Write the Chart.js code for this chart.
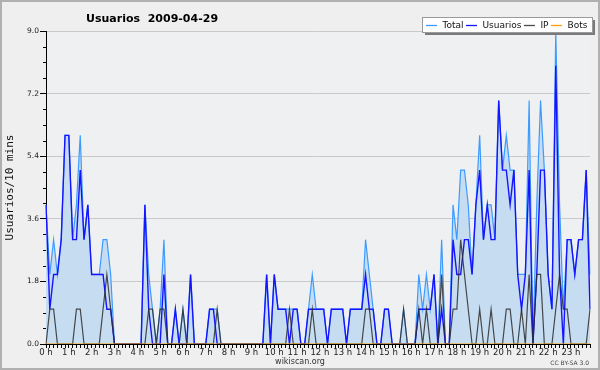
<!DOCTYPE html>
<html><head><meta charset="utf-8">
<script src="https://cdn.jsdelivr.net/npm/chart.js@4.4.0/dist/chart.umd.min.js"></script>
<style>html,body{margin:0;padding:0;background:#efefef;}#wrap{width:600px;height:370px;position:relative;}canvas{display:block;}</style>
</head><body><div id="wrap"><canvas id="c" width="600" height="370"></canvas></div>
<script>
const chartTitle = 'Usuarios  2009-04-29';
const yAxisTitle = 'Usuarios/10 mins';
const hourLabels = ['0 h','1 h','2 h','3 h','4 h','5 h','6 h','7 h','8 h','9 h','10 h','11 h','12 h','13 h','14 h','15 h','16 h','17 h','18 h','19 h','20 h','21 h','22 h','23 h'];
const slots = [];
for (let h = 0; h < 24; h++) for (let m = 0; m < 60; m += 10) slots.push(h + ':' + (m === 0 ? '00' : m));

const total = [4,2,3,2,3,6,6,3,4,6,
 3,4,2,2,2,3,3,2,0,0,
 0,0,0,0,0,0,4,2,1,0,
 1,3,0,0,1,0,1,0,2,0,
 0,0,0,1,1,1,0,0,0,0,
 0,0,0,0,0,0,0,0,2,0,
 2,1,1,1,1,1,1,0,0,1,
 2,1,1,1,0,1,1,1,1,0,
 1,1,1,1,3,2,1,0,0,1,
 1,0,0,0,1,0,0,0,2,1,
 2,1,2,0,3,0,0,4,3,5,
 5,4,2,4,6,3,4,4,3,7,
 5,6,5,5,2,2,2,7,0,4,
 7,5,2,1,9,4,1,3,3,2,
 3,3,5,2];
const usuarios = [4,1,2,2,3,6,6,3,3,5,
 3,4,2,2,2,2,1,1,0,0,
 0,0,0,0,0,0,4,1,0,0,
 0,2,0,0,1,0,0,0,2,0,
 0,0,0,1,1,0,0,0,0,0,
 0,0,0,0,0,0,0,0,2,0,
 2,1,1,1,0,1,1,0,0,1,
 1,1,1,1,0,1,1,1,1,0,
 1,1,1,1,2,1,1,0,0,1,
 1,0,0,0,0,0,0,0,1,1,
 1,1,2,0,1,0,0,3,2,2,
 3,3,2,4,5,3,4,3,3,7,
 5,5,4,5,2,1,2,5,0,2,
 5,5,2,1,8,2,0,3,3,2,
 3,3,5,1];
const ip = [0,1,1,0,0,0,0,0,1,1,
 0,0,0,0,0,1,2,1,0,0,
 0,0,0,0,0,0,0,1,1,0,
 1,1,0,0,0,0,1,0,0,0,
 0,0,0,0,0,1,0,0,0,0,
 0,0,0,0,0,0,0,0,0,0,
 0,0,0,0,1,0,0,0,0,0,
 1,0,0,0,0,0,0,0,0,0,
 0,0,0,0,1,1,0,0,0,0,
 0,0,0,0,1,0,0,0,1,0,
 1,0,0,0,2,0,0,1,1,3,
 2,1,0,0,1,0,0,1,0,0,
 0,1,1,0,0,1,0,2,0,2,
 2,0,0,0,1,2,1,1,0,0,
 0,0,0,1];
const bots = [0,0,0,0,0,0,0,0,0,0,0,0,0,0,0,0,0,0,0,0,0,0,0,0,
 0,0,0,0,0,0,0,0,0,0,0,0,0,0,0,0,0,0,0,0,0,0,0,0,
 0,0,0,0,0,0,0,0,0,0,0,0,0,0,0,0,0,0,0,0,0,0,0,0,
 0,0,0,0,0,0,0,0,0,0,0,0,0,0,0,0,0,0,0,0,0,0,0,0,
 0,0,0,0,0,0,0,0,0,0,0,0,0,0,0,0,0,0,0,0,0,0,0,0,
 0,0,0,0,0,0,0,0,0,0,0,0,0,0,0,0,0,0,0,0,0,0,0,0];

const isMajor = v => Math.abs(v / 1.8 - Math.round(v / 1.8)) < 1e-6;

const decor = {
  id: 'decor',
  beforeDraw(chart) {
    const c = chart.ctx, a = chart.chartArea;
    c.save();
    c.fillStyle = '#efefef';
    c.fillRect(0, 0, chart.width, chart.height);
    c.fillStyle = '#eef0f2';
    c.fillRect(a.left, a.top, a.right - a.left, a.bottom - a.top);
    c.restore();
  },
  afterDraw(chart) {
    const c = chart.ctx, a = chart.chartArea, ys = chart.scales.y;
    c.save();
    c.strokeStyle = '#000'; c.lineWidth = 1;
    ys.ticks.forEach(t => {
      if (!isMajor(t.value)) {
        const y = Math.round(ys.getPixelForValue(t.value)) + 0.5;
        c.beginPath(); c.moveTo(a.left - 3, y); c.lineTo(a.left, y); c.stroke();
      }
    });
    c.fillStyle = '#000';
    c.font = 'bold 11px "DejaVu Sans"';
    c.textBaseline = 'alphabetic'; c.textAlign = 'left';
    c.fillText(chartTitle, 86, 21.5);
    c.save();
    c.translate(13, (a.top + a.bottom) / 2);
    c.rotate(-Math.PI / 2);
    c.font = '11px "DejaVu Sans Mono"';
    c.textAlign = 'center'; c.textBaseline = 'alphabetic';
    c.fillStyle = '#111';
    c.fillText(yAxisTitle, 0, 0);
    c.restore();
    c.font = '8px "DejaVu Sans"'; c.fillStyle = '#333'; c.textAlign = 'center';
    c.fillText('wikiscan.org', 300, 364);
    c.font = '6px "DejaVu Sans"'; c.fillStyle = '#444'; c.textAlign = 'right';
    c.fillText('CC BY-SA 3.0', 589, 365);
    const lx = 422.5, ly = 17.5, lw = 170, lh = 15;
    c.fillStyle = '#7a7a7a';
    c.fillRect(lx + 2.5, ly + 2.5, lw, lh);
    c.fillStyle = '#ffffff';
    c.fillRect(lx, ly, lw, lh);
    c.strokeStyle = '#9a9a9a'; c.lineWidth = 1;
    c.strokeRect(lx, ly, lw, lh);
    c.font = '9px "DejaVu Sans"'; c.textAlign = 'left'; c.textBaseline = 'middle';
    let x = 426;
    const cy = 25.5;
    chart.data.datasets.forEach(ds => {
      c.strokeStyle = ds.borderColor; c.lineWidth = 1.3;
      c.beginPath(); c.moveTo(x, cy); c.lineTo(x + 11, cy); c.stroke();
      x += 16.5;
      c.fillStyle = '#111';
      c.fillText(ds.label, x, cy);
      x += c.measureText(ds.label).width + 2.5;
    });
    c.strokeStyle = '#b0b0b0'; c.lineWidth = 2;
    c.strokeRect(1, 1, chart.width - 2, chart.height - 2);
    c.restore();
  }
};

new Chart(document.getElementById('c'), {
  type: 'line',
  data: {
    labels: slots,
    datasets: [
      {label: 'Total', data: total, borderColor: '#3d9bff', backgroundColor: '#c6dcf1', fill: 'origin', borderWidth: 1.2, order: 4},
      {label: 'Usuarios', data: usuarios, borderColor: '#1414ff', borderWidth: 1.4, fill: false, order: 3},
      {label: 'IP', data: ip, borderColor: 'rgba(45,45,45,0.85)', borderWidth: 1.2, fill: false, order: 2},
      {label: 'Bots', data: bots, borderColor: '#ffa200', borderWidth: 1.2, fill: false, order: 1}
    ]
  },
  options: {
    responsive: false, animation: false, devicePixelRatio: 1,
    elements: {point: {radius: 0}, line: {tension: 0}},
    layout: {padding: {top: 31, right: 10, left: 0, bottom: 0}},
    plugins: {legend: {display: false}, tooltip: {enabled: false}, title: {display: false}},
    scales: {
      x: {
        type: 'category', offset: false, z: 1,
        grid: {display: true, drawOnChartArea: false, drawTicks: true, tickLength: 4, tickColor: '#000', lineWidth: 1},
        border: {display: true, color: '#000', width: 1},
        ticks: {autoSkip: false, maxRotation: 0, minRotation: 0, padding: 0, color: '#222',
          font: {family: 'DejaVu Sans', size: 8.5},
          callback: (v, i) => (i % 6 === 0 ? hourLabels[i / 6] : '')},
        afterFit: s => { s.height = 26; }
      },
      y: {
        min: 0, max: 9, z: 1,
        grid: {color: c => (isMajor(c.tick.value) ? '#c9c9c9' : 'rgba(0,0,0,0)'), drawTicks: true, tickLength: 6,
          tickColor: c => (isMajor(c.tick.value) ? '#000' : 'rgba(0,0,0,0)'), lineWidth: 1},
        border: {display: true, color: '#000', width: 1},
        ticks: {stepSize: 0.45, maxTicksLimit: 100, autoSkip: false, padding: 1, color: '#222',
          font: {family: 'DejaVu Sans', size: 7.5},
          callback: v => (isMajor(v) ? v.toFixed(1) : '')},
        afterFit: s => { s.width = 46; }
      }
    }
  },
  plugins: [decor]
});
</script>
</body></html>
